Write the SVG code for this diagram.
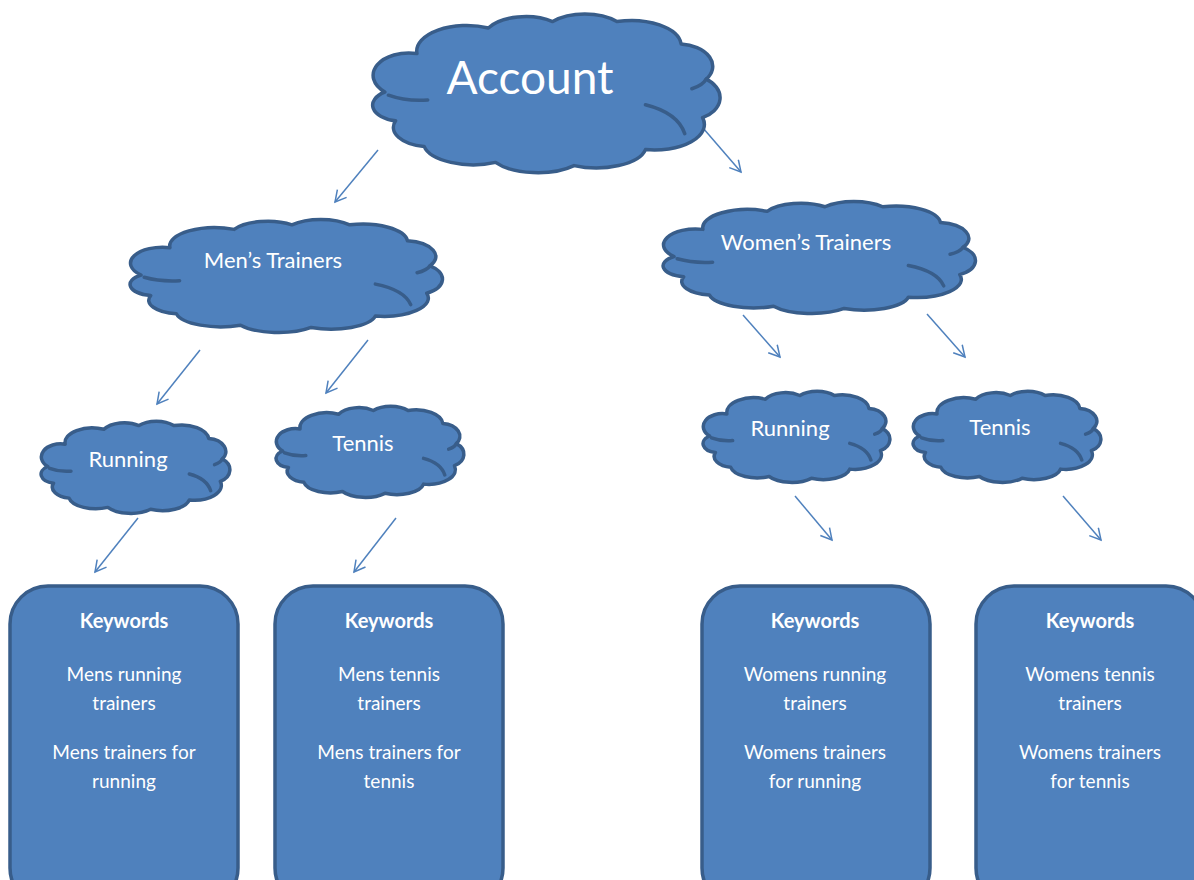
<svg xmlns="http://www.w3.org/2000/svg" width="1194" height="880" viewBox="0 0 1194 880">
<style>
.cl{fill:#4F81BD;stroke:#385D8A;stroke-width:3.5;stroke-linejoin:round}
.in{fill:none;stroke:#385D8A;stroke-width:3.5;stroke-linecap:round}
.box{fill:#4F81BD;stroke:#385D8A;stroke-width:3.5}
.t{font-family:Lato,"Open Sans","Liberation Sans",sans-serif;fill:#fff;text-anchor:middle}
.kw{font-family:Lato,"Open Sans","Liberation Sans",sans-serif;fill:#fff;text-anchor:middle;font-size:19px}
.kb{font-weight:bold;font-size:20px}
.ar{fill:none;stroke:#4F81BD;stroke-width:1.5}
</style>
<defs>
<marker id="ah" markerWidth="14" markerHeight="14" refX="12" refY="7" orient="auto" markerUnits="userSpaceOnUse">
<path d="M1,1 L12,7 L1,13" fill="none" stroke="#4F81BD" stroke-width="1.5"/>
</marker>
<g id="cloud">
<path class="cl" vector-effect="non-scaling-stroke" d="M5,50 A10,14 0 0 1 14,26 A14,16 0 0 1 34,10 A12,14 0 0 1 52,6 A12,14 0 0 1 70,6 A14,16 0 0 1 88,20 A10,14 0 0 1 95,42 A9,14 0 0 1 94,66 A14,16 0 0 1 78,86 A14,14 0 0 1 58,96 A14,14 0 0 1 36,94 A14,14 0 0 1 16,84 A10,12 0 0 1 8,68 A8,10 0 0 1 5,50 Z"/>
<path class="in" vector-effect="non-scaling-stroke" d="M6,52 Q11,56 17,55 M78,58 Q87,63 89,76 M95,42 Q94,46 91,48"/>
</g>
</defs>

<g id="connectors">
<line class="ar" x1="378" y1="150" x2="335" y2="202" marker-end="url(#ah)"/>
<line class="ar" x1="703" y1="128" x2="741" y2="172" marker-end="url(#ah)"/>
<line class="ar" x1="200" y1="350" x2="157" y2="404" marker-end="url(#ah)"/>
<line class="ar" x1="368" y1="340" x2="326" y2="393" marker-end="url(#ah)"/>
<line class="ar" x1="743" y1="315" x2="780" y2="357" marker-end="url(#ah)"/>
<line class="ar" x1="927" y1="314" x2="965" y2="357" marker-end="url(#ah)"/>
<line class="ar" x1="138" y1="518" x2="95" y2="572" marker-end="url(#ah)"/>
<line class="ar" x1="396" y1="518" x2="354" y2="572" marker-end="url(#ah)"/>
<line class="ar" x1="795" y1="496" x2="832" y2="540" marker-end="url(#ah)"/>
<line class="ar" x1="1063" y1="496" x2="1101" y2="540" marker-end="url(#ah)"/>
</g>

<g id="account">
<use href="#cloud" transform="translate(367,12) scale(3.57,1.6)"/>
<text class="t" x="530" y="94" font-size="46">Account</text>
</g>
<g id="mens-trainers">
<use href="#cloud" transform="translate(125,218) scale(3.21,1.14)"/>
<text class="t" x="273" y="268" font-size="22">Men’s Trainers</text>
</g>
<g id="womens-trainers">
<use href="#cloud" transform="translate(658,200) scale(3.21,1.13)"/>
<text class="t" x="806" y="250" font-size="22">Women’s Trainers</text>
</g>
<g id="mens-running">
<use href="#cloud" transform="translate(38,420) scale(1.94,0.93)"/>
<text class="t" x="128" y="467" font-size="22">Running</text>
</g>
<g id="mens-tennis">
<use href="#cloud" transform="translate(273,405) scale(1.93,0.92)"/>
<text class="t" x="363" y="451" font-size="22">Tennis</text>
</g>
<g id="womens-running">
<use href="#cloud" transform="translate(700,390) scale(1.92,0.92)"/>
<text class="t" x="790" y="436" font-size="22">Running</text>
</g>
<g id="womens-tennis">
<use href="#cloud" transform="translate(910,390) scale(1.93,0.92)"/>
<text class="t" x="1000" y="435" font-size="22">Tennis</text>
</g>

<g id="kw-mens-running">
<rect class="box" x="10" y="586" width="228" height="320" rx="38"/>
<text class="kw kb" x="124" y="628">Keywords</text>
<text class="kw" x="124" y="681">Mens running</text>
<text class="kw" x="124" y="710">trainers</text>
<text class="kw" x="124" y="759">Mens trainers for</text>
<text class="kw" x="124" y="788">running</text>
</g>
<g id="kw-mens-tennis">
<rect class="box" x="275" y="586" width="228" height="320" rx="38"/>
<text class="kw kb" x="389" y="628">Keywords</text>
<text class="kw" x="389" y="681">Mens tennis</text>
<text class="kw" x="389" y="710">trainers</text>
<text class="kw" x="389" y="759">Mens trainers for</text>
<text class="kw" x="389" y="788">tennis</text>
</g>
<g id="kw-womens-running">
<rect class="box" x="702" y="586" width="228" height="320" rx="38"/>
<text class="kw kb" x="815" y="628">Keywords</text>
<text class="kw" x="815" y="681">Womens running</text>
<text class="kw" x="815" y="710">trainers</text>
<text class="kw" x="815" y="759">Womens trainers</text>
<text class="kw" x="815" y="788">for running</text>
</g>
<g id="kw-womens-tennis">
<rect class="box" x="976" y="586" width="228" height="320" rx="38"/>
<text class="kw kb" x="1090" y="628">Keywords</text>
<text class="kw" x="1090" y="681">Womens tennis</text>
<text class="kw" x="1090" y="710">trainers</text>
<text class="kw" x="1090" y="759">Womens trainers</text>
<text class="kw" x="1090" y="788">for tennis</text>
</g>
</svg>
